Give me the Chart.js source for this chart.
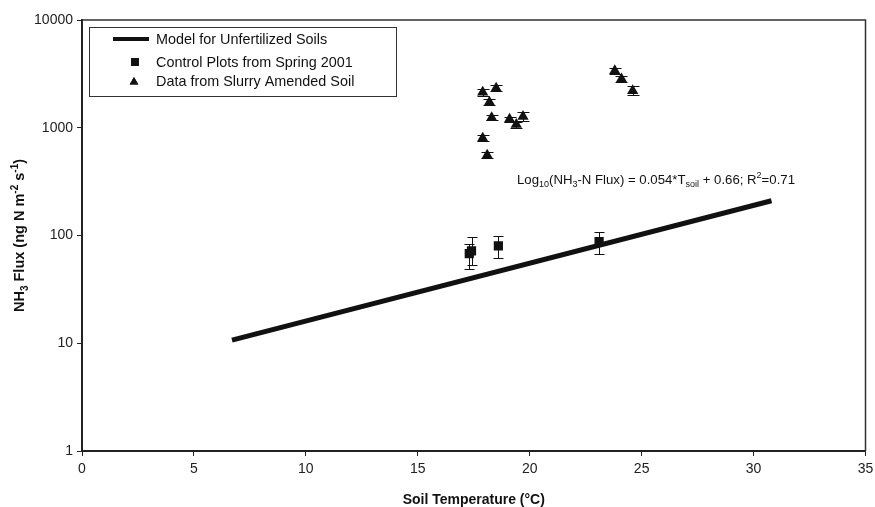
<!DOCTYPE html>
<html>
<head>
<meta charset="utf-8">
<script src="https://cdn.jsdelivr.net/npm/chart.js@4.4.0/dist/chart.umd.min.js"></script>
<style>
  body { margin: 0; background: #fff; }
  canvas { display: block; }
</style>
</head>
<body>
<canvas id="fluxChart" width="875" height="507"></canvas>
<script>
// model line end points (log-linear fit)
const modelTemp = [6.7, 30.8];
const modelFlux = [10.7, 210];

// control plots, spring 2001
const controlTemp = [17.3, 17.4, 18.6, 23.1];
const controlFlux = [68, 72, 80, 88];
const controlLow = [49, 53, 62, 68];
const controlHigh = [83, 96, 100, 108];

// slurry amended soil
const slurryTemp = [17.9, 18.5, 18.2, 18.3, 19.1, 19.4, 19.7, 17.9, 18.1, 23.8, 24.1, 24.6];
const slurryFlux = [2130, 2320, 1720, 1240, 1200, 1070, 1270, 800, 555, 3380, 2830, 2210];
const slurryLow = [1990, 2180, 1620, 1170, 1130, 1000, 1155, 750, 525, 3180, 2660, 1995];
const slurryHigh = [2280, 2480, 1830, 1320, 1270, 1140, 1410, 850, 590, 3600, 3010, 2420];

const yTicks = [1, 10, 100, 1000, 10000];
const xTicks = [0, 5, 10, 15, 20, 25, 30, 35];

const FONT = '"Liberation Sans", Arial, sans-serif';
const INK = '#111';

function pts(xs, ys) {
    let out = [];
    for (let i = 0; i < xs.length; i++) out.push({ x: xs[i], y: ys[i] });
    return out;
}

// text with sub/superscripts: parts = [[text, 'n'|'sub'|'sup'], ...]
function richWidth(ctx, parts, size, weight) {
    let w = 0;
    parts.forEach(p => {
        let s = p[1] === 'n' ? size : Math.round(size * 0.68);
        ctx.font = weight + ' ' + s + 'px ' + FONT;
        w += ctx.measureText(p[0]).width;
    });
    return w;
}

function drawRich(ctx, parts, x, y, size, weight) {
    ctx.textBaseline = 'alphabetic';
    ctx.textAlign = 'left';
    parts.forEach(p => {
        let s = p[1] === 'n' ? size : Math.round(size * 0.68);
        let dy = p[1] === 'sub' ? size * 0.25 : (p[1] === 'sup' ? -size * 0.42 : 0);
        ctx.font = weight + ' ' + s + 'px ' + FONT;
        ctx.fillText(p[0], x, y + dy);
        x += ctx.measureText(p[0]).width;
    });
}

const errorBars = {
    id: 'errorBars',
    beforeDatasetsDraw(chart) {
        const ctx = chart.ctx;
        const xs = chart.scales.x, ys = chart.scales.y;
        const sets = [
            [controlTemp, controlLow, controlHigh, 5],
            [slurryTemp, slurryLow, slurryHigh, 6]
        ];
        ctx.save();
        ctx.strokeStyle = INK;
        ctx.lineWidth = 1;
        sets.forEach(s => {
            for (let i = 0; i < s[0].length; i++) {
                let px = Math.round(xs.getPixelForValue(s[0][i])) + 0.5;
                let lo = Math.round(ys.getPixelForValue(s[1][i])) + 0.5;
                let hi = Math.round(ys.getPixelForValue(s[2][i])) + 0.5;
                ctx.beginPath();
                ctx.moveTo(px, lo); ctx.lineTo(px, hi);
                ctx.moveTo(px - s[3], lo); ctx.lineTo(px + s[3], lo);
                ctx.moveTo(px - s[3], hi); ctx.lineTo(px + s[3], hi);
                ctx.stroke();
            }
        });
        ctx.restore();
    }
};

const decorations = {
    id: 'decorations',
    afterDraw(chart) {
        const ctx = chart.ctx;
        const a = chart.chartArea;
        ctx.save();

        // frame top and right
        ctx.strokeStyle = '#333';
        ctx.lineWidth = 1.5;
        ctx.beginPath();
        ctx.moveTo(a.left, a.top);
        ctx.lineTo(a.right, a.top);
        ctx.lineTo(a.right, a.bottom);
        ctx.stroke();

        // legend box
        ctx.fillStyle = '#fff';
        ctx.fillRect(89, 27, 307, 69);
        ctx.strokeStyle = '#333';
        ctx.lineWidth = 1;
        ctx.strokeRect(89.5, 27.5, 307, 69);

        const ds = chart.data.datasets;
        const rows = [39, 62, 81];
        ctx.fillStyle = INK;
        ctx.strokeStyle = INK;
        // line sample
        ctx.lineWidth = 4;
        ctx.beginPath();
        ctx.moveTo(113, rows[0]); ctx.lineTo(149, rows[0]);
        ctx.stroke();
        Chart.helpers.drawPoint(ctx, { pointStyle: 'rect', radius: 5.5, borderWidth: 0 }, 135, rows[1]);
        ctx.fill();
        Chart.helpers.drawPoint(ctx, { pointStyle: 'triangle', radius: 5, borderWidth: 0 }, 134, rows[2] + 1);
        ctx.fill();
        ctx.font = '14.4px ' + FONT;
        ctx.textBaseline = 'middle';
        ctx.textAlign = 'left';
        for (let i = 0; i < 3; i++) ctx.fillText(ds[i].label, 156, rows[i] + 1);

        // fit equation
        ctx.fillStyle = INK;
        drawRich(ctx, [['Log', 'n'], ['10', 'sub'], ['(NH', 'n'], ['3', 'sub'], ['-N Flux) = 0.054*T', 'n'],
            ['soil', 'sub'], [' + 0.66; R', 'n'], ['2', 'sup'], ['=0.71', 'n']], 517, 184, 13.2, 'normal');

        // x axis title
        ctx.font = 'bold 14px ' + FONT;
        ctx.textAlign = 'center';
        ctx.textBaseline = 'middle';
        ctx.fillText('Soil Temperature (\u00B0C)', (a.left + a.right) / 2, 500);

        // y axis title
        const yParts = [['NH', 'n'], ['3', 'sub'], [' Flux (ng N m', 'n'], ['-2', 'sup'], [' s', 'n'], ['-1', 'sup'], [')', 'n']];
        const w = richWidth(ctx, yParts, 14.5, 'bold');
        ctx.translate(24, (a.top + a.bottom) / 2);
        ctx.rotate(-Math.PI / 2);
        drawRich(ctx, yParts, -w / 2, 0, 14.5, 'bold');

        ctx.restore();
    }
};

const ctx = document.getElementById('fluxChart');
new Chart(ctx, {
    type: 'scatter',
    data: {
        datasets: [{
            label: 'Model for Unfertilized Soils',
            data: pts(modelTemp, modelFlux),
            showLine: true,
            borderColor: INK,
            borderWidth: 5,
            pointRadius: 0
        }, {
            label: 'Control Plots from Spring 2001',
            data: pts(controlTemp, controlFlux),
            pointStyle: 'rect',
            pointRadius: 6.5,
            pointBorderWidth: 0,
            backgroundColor: INK,
            borderColor: INK
        }, {
            label: 'Data from Slurry Amended Soil',
            data: pts(slurryTemp, slurryFlux),
            pointStyle: 'triangle',
            pointRadius: 6.5,
            pointBorderWidth: 0,
            backgroundColor: INK,
            borderColor: INK
        }]
    },
    options: {
        responsive: false,
        animation: false,
        layout: { padding: { left: 0, top: 20, right: 9.5, bottom: 0 } },
        plugins: {
            legend: { display: false },
            tooltip: { enabled: false }
        },
        scales: {
            x: {
                type: 'linear',
                min: 0,
                max: 35,
                afterBuildTicks: s => { s.ticks = xTicks.map(v => ({ value: v })); },
                afterFit: s => { s.height = 56; s.paddingRight = 0; },
                ticks: { font: { family: FONT, size: 14 }, color: '#222', padding: 5, maxRotation: 0 },
                grid: { drawOnChartArea: false, tickLength: 5, color: '#222' },
                border: { color: '#222', width: 2 }
            },
            y: {
                type: 'logarithmic',
                min: 1,
                max: 10000,
                afterBuildTicks: s => { s.ticks = yTicks.map(v => ({ value: v })); },
                afterFit: s => { s.width = 82; },
                ticks: { font: { family: FONT, size: 14 }, color: '#222', padding: 4, callback: v => String(v) },
                grid: { drawOnChartArea: false, tickLength: 5, color: '#222' },
                border: { color: '#222', width: 2 }
            }
        }
    },
    plugins: [errorBars, decorations]
});
</script>
</body>
</html>
